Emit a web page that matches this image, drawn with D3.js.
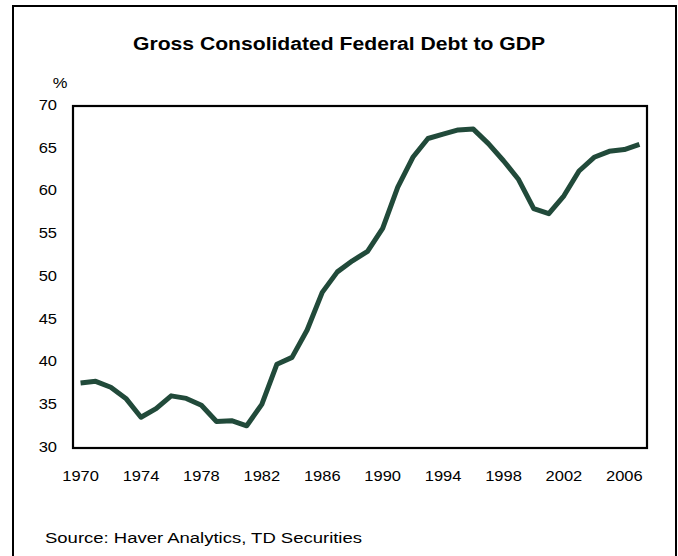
<!DOCTYPE html>
<html>
<head>
<meta charset="utf-8">
<script src="https://cdn.jsdelivr.net/npm/d3@7"></script>
<style>
  html, body { margin: 0; padding: 0; background: #fff; }
  svg { display: block; font-family: "Liberation Sans", Arial, sans-serif; }
</style>
</head>
<body>
<svg id="chart" width="678" height="556"></svg>
<script>
// Gross consolidated federal debt as a share of GDP, annual, %
const years = d3.range(1970, 2008);
const debtToGdp = [
  37.6, 37.8, 37.1, 35.8, 33.6, 34.6, 36.1, 35.8, 35.0, 33.1,
  33.2, 32.6, 35.1, 39.8, 40.6, 43.8, 48.2, 50.6, 51.9, 53.0,
  55.7, 60.5, 64.0, 66.2, 66.7, 67.2, 67.3, 65.6, 63.6, 61.4,
  58.0, 57.4, 59.5, 62.4, 64.0, 64.7, 64.9, 65.5
];
const yTicks = [30, 35, 40, 45, 50, 55, 60, 65, 70];
const xTickYears = [1970, 1974, 1978, 1982, 1986, 1990, 1994, 1998, 2002, 2006];

const titleText = "Gross Consolidated Federal Debt to GDP";
const unitText = "%";
const sourceText = "Source: Haver Analytics, TD Securities";

const svg = d3.select("#chart");
const plot = { left: 73, right: 647, top: 106, bottom: 448 };
const stretch = 1.1; // type is set slightly wide

const x = d3.scaleBand().domain(years).range([plot.left, plot.right]).padding(0);
const y = d3.scaleLinear().domain([30, 70]).range([plot.bottom, plot.top]);

// outer frame (open at the bottom edge of the canvas)
svg.append("rect")
  .attr("x", 13).attr("y", 6).attr("width", 663).attr("height", 560)
  .attr("fill", "none").attr("stroke", "#000").attr("stroke-width", 2);

function label(px, py, txt, opts = {}) {
  const t = svg.append("text")
    .attr("transform", `translate(${px},${py}) scale(${opts.sx || stretch},1)`)
    .attr("text-anchor", opts.anchor || "start")
    .attr("dominant-baseline", opts.baseline || "alphabetic")
    .attr("font-size", opts.size || 15)
    .attr("font-weight", opts.weight || "normal")
    .attr("fill", "#000")
    .text(txt);
  if (opts.width) {
    t.attr("textLength", opts.width).attr("lengthAdjust", "spacingAndGlyphs");
  }
  return t;
}

// title, unit and source
label(339, 50, titleText, { anchor: "middle", size: 18, weight: "bold", sx: 1, width: 412 });
label(60, 84, unitText, { anchor: "middle", baseline: "middle" });
label(45, 543, sourceText, { size: 15.5, sx: 1, width: 317 });

// plot frame
svg.append("rect")
  .attr("x", plot.left).attr("y", plot.top)
  .attr("width", plot.right - plot.left).attr("height", plot.bottom - plot.top)
  .attr("fill", "none").attr("stroke", "#000").attr("stroke-width", 2.2);

// y axis labels
const yAxis = d3.axisLeft(y).tickValues(yTicks).tickSize(0).tickPadding(0);
const yg = svg.append("g").attr("transform", `translate(${plot.left},0)`).call(yAxis);
yg.select(".domain").remove();
yg.selectAll("text").remove();
yTicks.forEach(v => label(57, y(v), String(v), { anchor: "end", baseline: "middle" }));

// x axis labels
const xAxis = d3.axisBottom(x).tickValues(xTickYears).tickSize(0);
const xg = svg.append("g").attr("transform", `translate(0,${plot.bottom})`).call(xAxis);
xg.select(".domain").remove();
xg.selectAll("text").remove();
xTickYears.forEach(v => label(x(v) + x.bandwidth() / 2, 481, String(v), { anchor: "middle" }));

// debt line
const line = d3.line()
  .x((d, i) => x(years[i]) + x.bandwidth() / 2)
  .y(d => y(d));

svg.append("path")
  .datum(debtToGdp)
  .attr("d", line)
  .attr("fill", "none")
  .attr("stroke", "#214a3a")
  .attr("stroke-width", 5)
  .attr("stroke-linejoin", "round")
  .attr("stroke-linecap", "butt");
</script>
</body>
</html>
